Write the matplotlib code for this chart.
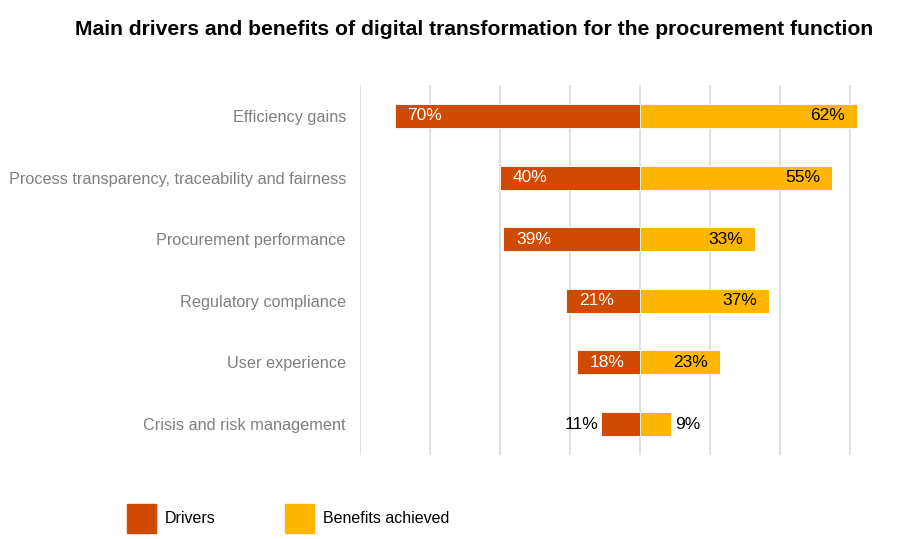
import matplotlib.pyplot as plt
from matplotlib.patches import Patch

plt.rcParams['font.family'] = ['Liberation Sans', 'DejaVu Sans']

# ----------------------------
# Data
# ----------------------------
categories = [
    "Efficiency gains",
    "Process transparency, traceability and fairness",
    "Procurement performance",
    "Regulatory compliance",
    "User experience",
    "Crisis and risk management",
]
drivers = [70, 40, 39, 21, 18, 11]
benefits = [62, 55, 33, 37, 23, 9]

c_drv = "#D04A02"
c_ben = "#FFB600"

fig = plt.figure(figsize=(9.11, 5.39), dpi=100)
ax = fig.add_axes([0.395, 0.156, 0.561, 0.686])

y = list(range(len(categories)))
ax.barh(y, [-d for d in drivers], height=0.39, color=c_drv, edgecolor="white", linewidth=0.6, zorder=2)
ax.barh(y, benefits, height=0.39, color=c_ben, edgecolor="white", linewidth=0.6, zorder=2)

# labels
for i, (d, b) in enumerate(zip(drivers, benefits)):
    if d >= 15:
        ax.annotate(f"{d}%", (-d, i), xytext=(9, 0), textcoords="offset points",
                    ha="left", va="center", color="white", fontsize=12.5, zorder=3)
    else:
        ax.annotate(f"{d}%", (-d, i), xytext=(-2, 0), textcoords="offset points",
                    ha="right", va="center", color="black", fontsize=12.5, zorder=3)
    if b >= 15:
        ax.annotate(f"{b}%", (b, i), xytext=(-9, 0), textcoords="offset points",
                    ha="right", va="center", color="black", fontsize=12.5, zorder=3)
    else:
        ax.annotate(f"{b}%", (b, i), xytext=(3, 0), textcoords="offset points",
                    ha="left", va="center", color="black", fontsize=12.5, zorder=3)

ax.set_xlim(-80, 66)
ax.set_ylim(5.5, -0.5)
ax.set_xticks(range(-80, 61, 20))
ax.set_xticklabels([])
ax.grid(axis="x", color="#d9d9d9", linewidth=1.2, zorder=0)
ax.set_yticks(y)
ax.set_yticklabels(categories, color="#7f7f7f", fontsize=11.7)
ax.tick_params(length=0, pad=10)
for s in ax.spines.values():
    s.set_visible(False)

fig.suptitle("Main drivers and benefits of digital transformation for the procurement function",
             x=0.52, y=0.962, fontsize=15.2, fontweight="bold")

handles = [Patch(color=c_drv, label="Drivers"), Patch(color=c_ben, label="Benefits achieved")]
fig.legend(handles=handles, loc="lower left", bbox_to_anchor=(0.1233, -0.015), ncol=2, frameon=False,
           handlelength=1.81, handleheight=2.35, handletextpad=0.55, columnspacing=4.4, fontsize=11.5)

fig.savefig("out.png", dpi=100)
